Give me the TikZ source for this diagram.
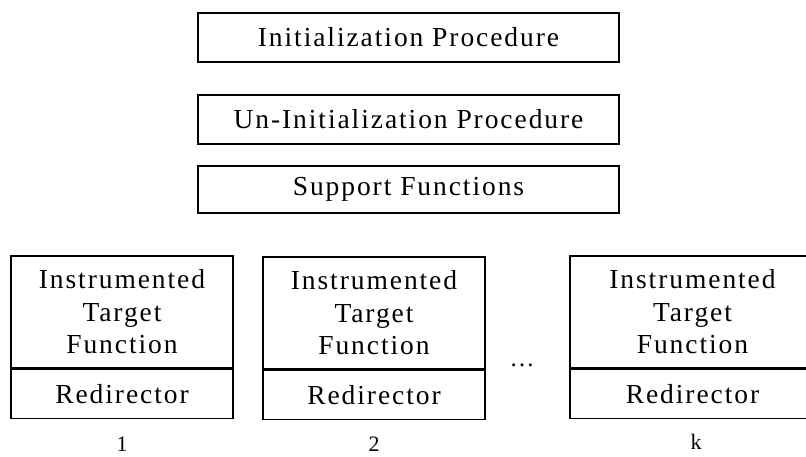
\documentclass[tikz,border=0pt]{standalone}
\usepackage{fontspec}
\setmainfont{Liberation Serif}[LetterSpace=7]
\begin{document}
\begin{tikzpicture}[x=1pt,y=-1pt,
  box/.style={draw, line width=1.2pt, inner sep=0pt, align=center,
    font=\fontsize{27.5}{32.5}\selectfont},
  lab/.style={inner sep=0pt, anchor=base, font=\fontsize{22}{26}\selectfont}]
\useasboundingbox (0,0) rectangle (806,457);
\clip (0,0) rectangle (806,457);
% top boxes
\node[box, minimum width=421pt, minimum height=49pt] (init) at (408.5,37.5) {Initialization Procedure};
\node[box, minimum width=421pt, minimum height=49pt] (uninit) at (408.5,119.5) {Un-Initialization Procedure};
\node[box, minimum width=421pt, minimum height=47pt] (support) at (408.5,189.5) {Support Functions};
% bottom boxes
\node[box, minimum width=222pt, minimum height=112pt] (tf1) at (122,312) {Instrumented\\Target\\Function};
\node[box, minimum width=222pt, minimum height=49pt, anchor=north] (rd1) at (tf1.south) {Redirector};
\node[box, minimum width=222pt, minimum height=112pt] (tf2) at (374,313) {Instrumented\\Target\\Function};
\node[box, minimum width=222pt, minimum height=49pt, anchor=north] (rd2) at (tf2.south) {Redirector};
\node[box, minimum width=245pt, minimum height=112pt] (tfk) at (692.5,312) {Instrumented\\Target\\Function};
\node[box, minimum width=245pt, minimum height=49pt, anchor=north] (rdk) at (tfk.south) {Redirector};
% dots and labels
\node[inner sep=0pt, anchor=base, font=\fontsize{25}{30}\selectfont] (dots) at (522,366) {…};
\node[lab] (l1) at (122,451) {1};
\node[lab] (l2) at (374,451) {2};
\node[lab] (lk) at (696,449) {k};
\end{tikzpicture}
\end{document}
